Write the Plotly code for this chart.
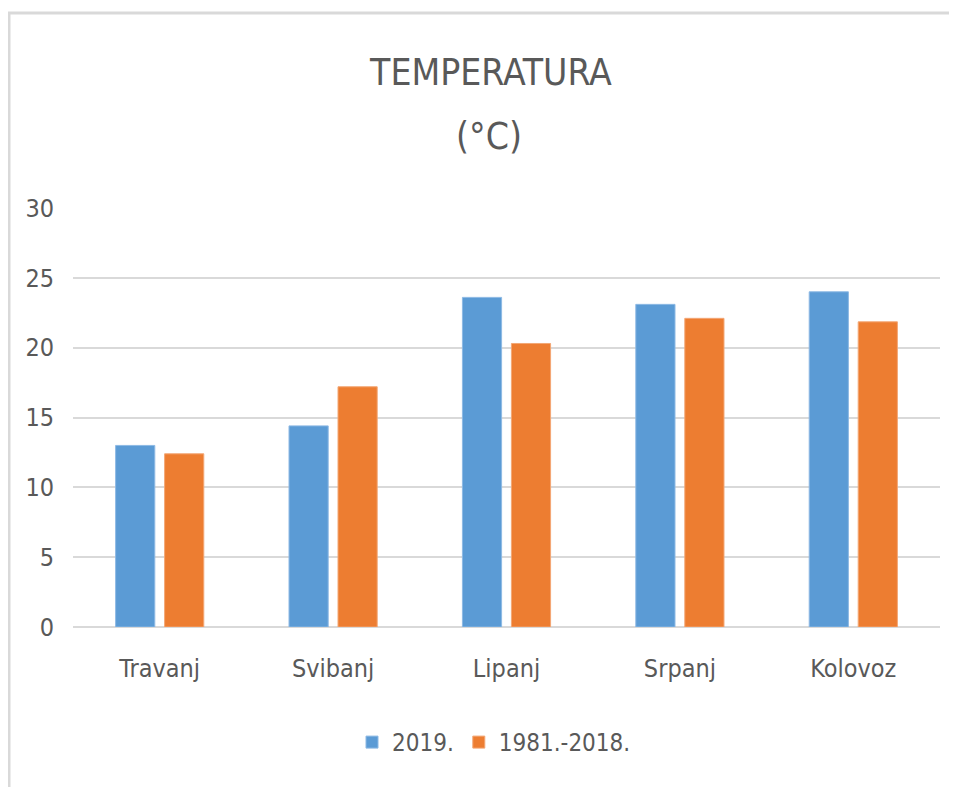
import plotly.graph_objects as go

categories = ["Travanj", "Svibanj", "Lipanj", "Srpanj", "Kolovoz"]
series_2019 = [13.0, 14.4, 23.6, 23.1, 24.0]
series_avg = [12.4, 17.2, 20.3, 22.1, 21.85]
series_names = ["2019.", "1981.-2018."]
y_ticks = [0, 5, 10, 15, 20, 25, 30]
title_lines = ["TEMPERATURA", "(°C)"]

W, H = 957, 787
OFF = 8  # page body margin
L, R, T, B = 73 - OFF, W - (940 - OFF), 208 - OFF, H - (627 - OFF)
FONT = "DejaVu Sans Condensed, Liberation Sans Narrow, sans-serif"
TXT = "#595959"

def px_x(p):
    # p given in screen pixels of the reference
    return (p - OFF - L) / (W - L - R)

def px_y(p):
    return (H - B - (p - OFF)) / (H - T - B)

fig = go.Figure()
fig.add_trace(go.Bar(x=categories, y=series_2019, name=series_names[0],
                     marker=dict(color="#5B9BD5", line=dict(color="#8DB9E4", width=1))))
fig.add_trace(go.Bar(x=categories, y=series_avg, name=series_names[1],
                     marker=dict(color="#ED7D31", line=dict(color="#F3A775", width=1))))

fig.update_layout(
    width=W, height=H,
    margin=dict(l=L, r=R, t=T, b=B),
    paper_bgcolor="white", plot_bgcolor="white",
    barmode="group", bargap=0.435, bargroupgap=0.2,
    font=dict(family=FONT, color=TXT, size=25),
    title=dict(text=title_lines[0], x=(491 - OFF) / W, xanchor="center",
               y=1 - 51 / H, yanchor="top",
               font=dict(family=FONT, size=37, color=TXT)),
    legend=dict(orientation="h", x=px_x(494), xanchor="center",
                y=px_y(720), yanchor="top",
                font=dict(family=FONT, size=24, color=TXT),
                itemwidth=30, traceorder="normal"),
    showlegend=True,
)
fig.add_annotation(text=title_lines[1], xref="paper", yref="paper",
                   x=px_x(489), y=px_y(136), xanchor="center", yanchor="middle",
                   showarrow=False, font=dict(family=FONT, size=37, color=TXT))
fig.update_xaxes(showgrid=False, showline=False, ticks="",
                 ticklabelstandoff=24, tickfont=dict(size=25, color=TXT))
fig.update_yaxes(range=[0, 30], tickvals=y_ticks, showgrid=True,
                 gridcolor="#D9D9D9", gridwidth=1.5, zeroline=True,
                 zerolinecolor="#D9D9D9", zerolinewidth=1.5, showline=False,
                 ticks="", ticklabelstandoff=18, tickfont=dict(size=25, color=TXT))

# outer chart frame (left and top edges visible)
fig.add_shape(type="line", xref="paper", yref="paper",
              x0=px_x(9), x1=px_x(9), y0=px_y(13), y1=px_y(800),
              line=dict(color="#D9D9D9", width=3))
fig.add_shape(type="line", xref="paper", yref="paper",
              x0=px_x(8), x1=px_x(970), y0=px_y(13), y1=px_y(13),
              line=dict(color="#D9D9D9", width=3))

fig.write_html("out.html")
